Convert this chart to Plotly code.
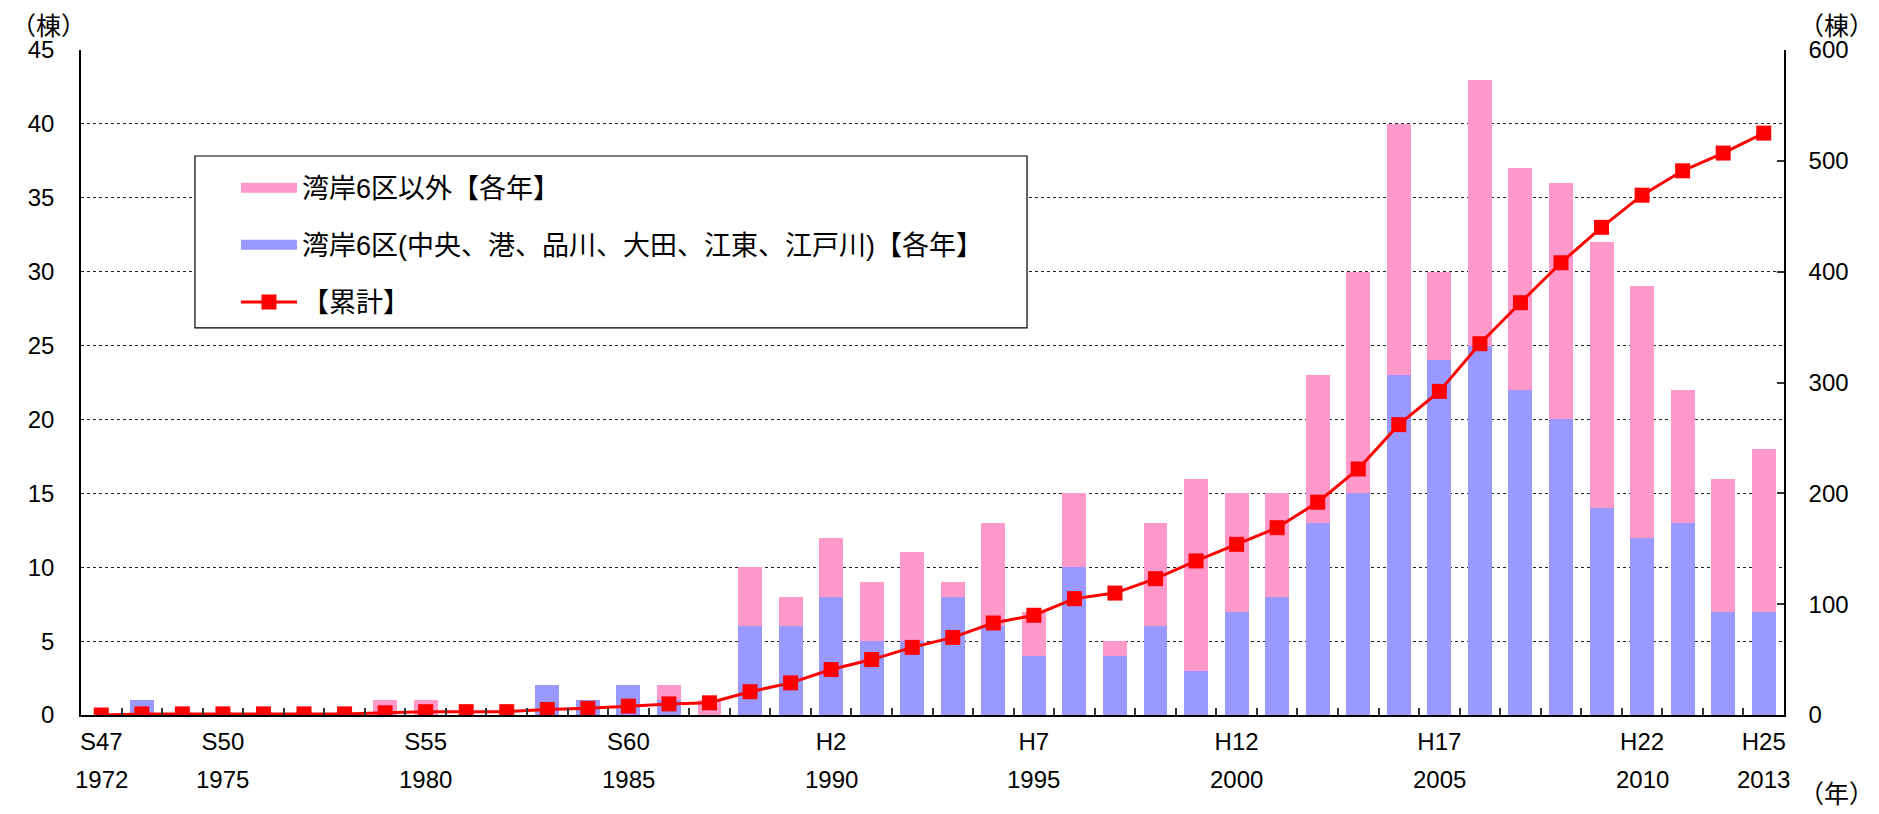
import plotly.graph_objects as go

years = list(range(1972, 2014))
bay6 = [0, 1, 0, 0, 0, 0, 0, 0, 0, 0, 0, 2, 1, 2, 1, 0,
        6, 6, 8, 5, 5, 8, 6, 4, 10, 4, 6, 3, 7, 8, 13, 15,
        23, 24, 25, 22, 20, 14, 12, 13, 7, 7]
others = [0, 0, 0, 0, 0, 0, 0, 1, 1, 0, 0, 0, 0, 0, 1, 1,
          4, 2, 4, 4, 6, 1, 7, 3, 5, 1, 7, 13, 8, 7, 10, 15,
          17, 6, 18, 15, 16, 18, 17, 9, 9, 11]
cumulative = [0, 1, 1, 1, 1, 1, 1, 2, 3, 3, 3, 5, 6, 8, 10, 11,
              21, 29, 41, 50, 61, 70, 83, 90, 105, 110, 123, 139, 154, 169, 192, 222,
              262, 292, 335, 372, 408, 440, 469, 491, 507, 525]

tick_years = [1972, 1975, 1980, 1985, 1990, 1995, 2000, 2005, 2010, 2013]
tick_era = ["S47", "S50", "S55", "S60", "H2", "H7", "H12", "H17", "H22", "H25"]

name_others = "湾岸6区以外【各年】"
name_bay6 = "湾岸6区(中央、港、品川、大田、江東、江戸川)【各年】"
name_cum = "【累計】"

PINK = "#FF99CC"
BLUE = "#9999FF"
RED = "#FF0000"
FONT = "Liberation Sans, Noto Sans CJK JP, sans-serif"

fig = go.Figure()
fig.add_trace(go.Bar(x=years, y=bay6, name=name_bay6, marker=dict(color=BLUE, line=dict(width=0)),
                     showlegend=False))
fig.add_trace(go.Bar(x=years, y=others, name=name_others, marker=dict(color=PINK, line=dict(width=0)),
                     showlegend=False))
fig.add_trace(go.Scatter(x=years, y=cumulative, name=name_cum, yaxis="y2", mode="lines+markers",
                         line=dict(color=RED, width=3),
                         marker=dict(symbol="square", size=15, color=RED),
                         legendrank=3, legendgroup="c"))
# legend entries for the stacked bars (wide colour swatches)
fig.add_trace(go.Scatter(x=[None], y=[None], mode="lines", name=name_others,
                         line=dict(color=PINK, width=12), legendrank=1, legendgroup="a"))
fig.add_trace(go.Scatter(x=[None], y=[None], mode="lines", name=name_bay6,
                         line=dict(color=BLUE, width=12), legendrank=2, legendgroup="b"))

boundaries = [y + 0.5 for y in years[:-1]]

fig.update_layout(
    width=1871, height=806,
    margin=dict(l=73, r=95, t=42, b=99),
    paper_bgcolor="white", plot_bgcolor="white",
    font=dict(family=FONT, size=24, color="black"),
    barmode="stack", bargap=0.41,
    showlegend=True,
    legend=dict(x=0.091, y=0.829, xanchor="left", yanchor="top",
                bgcolor="rgba(0,0,0,0)", borderwidth=0,
                font=dict(size=27), traceorder="grouped", tracegroupgap=19,
                itemwidth=56),
    xaxis=dict(range=[1971.5, 2013.5], tickvals=tick_years, ticktext=tick_era,
               ticks="", showline=True, linecolor="black", linewidth=1.5,
               showgrid=False, zeroline=False, ticklabelstandoff=4,
               minor=dict(tickvals=boundaries, ticks="inside", ticklen=7,
                          tickcolor="#333", tickwidth=1.5, showgrid=False)),
    yaxis=dict(range=[0, 45], dtick=5, showline=True, linecolor="black", linewidth=1.5,
               showgrid=True, gridcolor="#222", griddash="dot", gridwidth=1,
               zeroline=False, ticks="", ticklabelstandoff=20),
    yaxis2=dict(range=[0, 600], dtick=100, overlaying="y", side="right",
                showline=True, linecolor="black", linewidth=1.5, showgrid=False,
                zeroline=False, ticks="inside", ticklen=7, tickwidth=1.5, tickcolor="#333",
                ticklabelstandoff=18),
    shapes=[dict(type="rect", xref="paper", yref="paper", x0=0.0669, x1=0.5555, y0=0.582, y1=0.8406,
                 line=dict(color="black", width=1.2), fillcolor="white", layer="above")],
)

for yr in tick_years:
    fig.add_annotation(x=yr, y=0, xref="x", yref="paper", text=str(yr), showarrow=False,
                       yanchor="middle", yshift=-64, font=dict(size=24))
fig.add_annotation(x=0, y=1, xref="paper", yref="paper", text="（棟）", showarrow=False,
                   xanchor="left", yanchor="middle", xshift=-72, yshift=24, font=dict(size=25))
fig.add_annotation(x=1, y=1, xref="paper", yref="paper", text="（棟）", showarrow=False,
                   xanchor="right", yanchor="middle", xshift=92, yshift=24, font=dict(size=25))
fig.add_annotation(x=1, y=0, xref="paper", yref="paper", text="（年）", showarrow=False,
                   xanchor="right", yanchor="middle", xshift=92, yshift=-79, font=dict(size=25))

fig.write_html("out.html")
